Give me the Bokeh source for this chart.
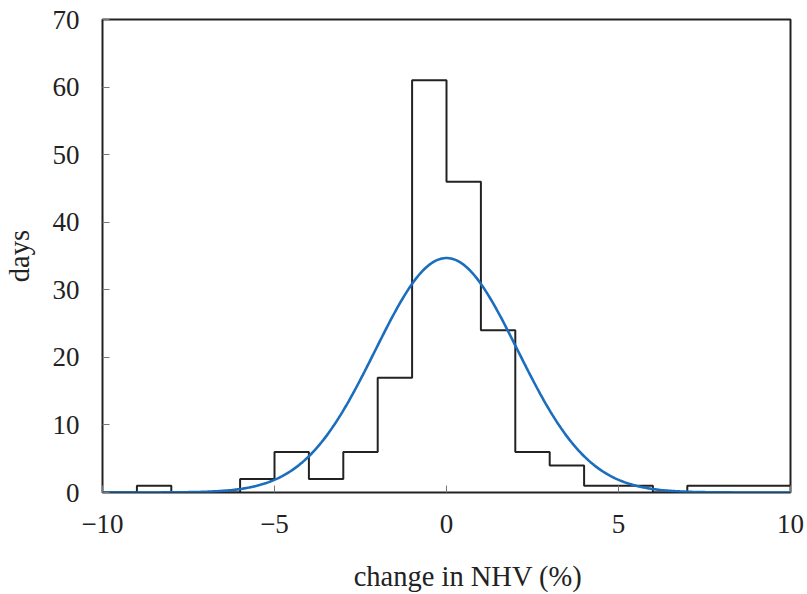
import numpy as np
from bokeh.plotting import figure
from bokeh.models import FixedTicker, Range1d, LinearAxis
from bokeh.embed import file_html
from bokeh.resources import INLINE

# histogram bin edges and counts (days)
bin_edges = [-10, -9, -8, -7, -6, -5, -4, -3, -2, -1, 0, 1, 2, 3, 4, 5, 6, 7, 8, 9, 10]
counts = [0, 1, 0, 0, 2, 6, 2, 6, 17, 61, 46, 24, 6, 4, 1, 1, 0, 1, 1, 1]

# fitted normal curve parameters
fit_mean = 0.0
fit_sigma = 2.07
fit_peak = 34.7

x_ticks = [-10, -5, 0, 5, 10]
x_tick_labels = ["\u221210", "\u22125", "0", "5", "10"]
y_ticks = [0, 10, 20, 30, 40, 50, 60, 70]
x_title = "change in NHV (%)"
y_title = "days"

FONT = "Liberation Serif"

p = figure(width=807, height=594, output_backend="svg", toolbar_location=None,
           x_range=Range1d(-10, 10), y_range=Range1d(0, 70),
           min_border_left=102, min_border_right=17, min_border_top=19, min_border_bottom=101)
p.xgrid.visible = False
p.ygrid.visible = False
p.outline_line_color = "#222222"
p.outline_line_width = 2
p.background_fill_color = "white"
p.border_fill_color = "white"

# step outline of histogram
step_x = bin_edges
step_y = counts + [counts[-1]]
p.step(step_x, step_y, mode="after", line_color="#222222", line_width=2)

xs = np.linspace(-10, 10, 400)
ys = fit_peak * np.exp(-0.5 * ((xs - fit_mean) / fit_sigma) ** 2)
p.line(xs, ys, line_color="#1b6dbd", line_width=2.6)

for ax in (p.xaxis[0], p.yaxis[0]):
    ax.axis_line_color = None
    ax.major_tick_in = 7
    ax.major_tick_out = 0
    ax.minor_tick_line_color = None
    ax.major_tick_line_color = "#777777"
    ax.major_tick_line_width = 1
    ax.major_label_text_font = FONT
    ax.major_label_text_font_size = "27px"
    ax.major_label_text_color = "#222222"

p.xaxis.ticker = FixedTicker(ticks=x_ticks)
p.xaxis.major_label_overrides = {t: l for t, l in zip(x_ticks, x_tick_labels)}
p.yaxis.ticker = FixedTicker(ticks=y_ticks)
p.xaxis.major_label_standoff = 22
p.yaxis.major_label_standoff = 23

p.yaxis.axis_label = y_title
p.yaxis.axis_label_text_font = FONT
p.yaxis.axis_label_text_font_size = "28.5px"
p.yaxis.axis_label_text_font_style = "normal"
p.yaxis.axis_label_text_color = "#222222"
p.yaxis.axis_label_standoff = 15

# secondary bottom axis carrying only the x-axis title (slightly right of centre, as in the original)
title_pos = 0.625
xlabel_axis = LinearAxis(ticker=FixedTicker(ticks=[title_pos]),
                         major_label_overrides={title_pos: x_title},
                         axis_line_color=None, major_tick_line_color=None,
                         minor_tick_line_color=None, major_label_standoff=25,
                         major_tick_in=0, major_tick_out=0,
                         major_label_text_font=FONT, major_label_text_font_size="28.5px",
                         major_label_text_color="#222222")
p.add_layout(xlabel_axis, "below")

open("out.html", "w").write(file_html(p, INLINE))
